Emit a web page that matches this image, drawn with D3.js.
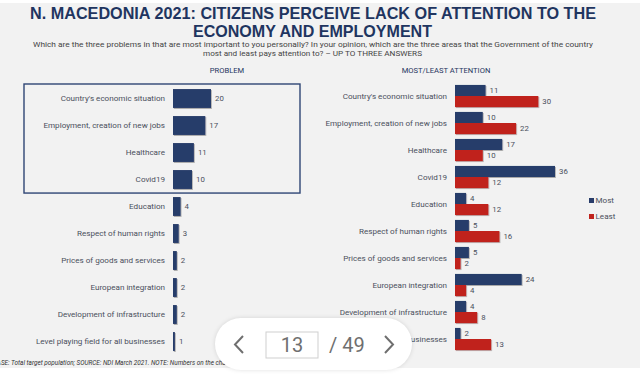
<!DOCTYPE html>
<html>
<head>
<meta charset="utf-8">
<script src="https://cdn.jsdelivr.net/npm/d3@7"></script>
<style>
  body { margin: 0; background: #ffffff; }
  svg { display: block; }
  .lbl { font-family: Roboto, sans-serif; font-size: 8.1px; fill: #4a4f5c; }
  .val { font-family: Roboto, sans-serif; font-size: 7.8px; fill: #4a4f5c; }
</style>
</head>
<body>
<script>
var w = 640;
var h = 377;

// data
var problems = ["Country's economic situation", "Employment, creation of new jobs", "Healthcare", "Covid19",
    "Education", "Respect of human rights", "Prices of goods and services", "European integration",
    "Development of infrastructure", "Level playing field for all businesses"];
var problemValues = [20, 17, 11, 10, 4, 3, 2, 2, 2, 1];
var mostValues = [11, 10, 17, 36, 4, 5, 5, 24, 4, 2];
var leastValues = [30, 22, 10, 12, 12, 16, 2, 4, 8, 13];
var seriesNames = ["Most", "Least"];

var navy = "#283c6a";
var red = "#c0231d";

var svg = d3.select("body").append("svg")
    .attr("width", w)
    .attr("height", h);

// soft shadow under the bars
var defs = svg.append("defs");
var f = defs.append("filter").attr("id", "sh").attr("x", "-20%").attr("y", "-20%").attr("width", "140%").attr("height", "150%");
f.append("feDropShadow").attr("dx", 0.8).attr("dy", 1).attr("stdDeviation", 0.7)
    .attr("flood-color", "#000").attr("flood-opacity", 0.3);

// background
svg.append("rect").attr("width", w).attr("height", h).attr("fill", "#ffffff");
svg.append("rect").attr("x", 0).attr("y", 3).attr("width", w).attr("height", 365).attr("fill", "#f2f2f2");

// title
var titleStyle = function(t) {
    t.style("font-family", "'Liberation Sans', Arial, sans-serif")
        .style("font-weight", "bold").style("font-size", "17px").style("fill", "#1f3560")
        .attr("lengthAdjust", "spacingAndGlyphs");
};
svg.append("text")
    .attr("x", 30).attr("y", 19)
    .attr("textLength", 566)
    .call(titleStyle)
    .text("N. MACEDONIA 2021: CITIZENS PERCEIVE LACK OF ATTENTION TO THE");
svg.append("text")
    .attr("x", 193).attr("y", 37)
    .attr("textLength", 239)
    .call(titleStyle)
    .text("ECONOMY AND EMPLOYMENT");

// subtitle
svg.append("text")
    .attr("x", 33).attr("y", 46.5)
    .attr("textLength", 560).attr("lengthAdjust", "spacingAndGlyphs")
    .style("font-family", "Roboto, sans-serif").style("font-size", "7.6px").style("fill", "#444")
    .text("Which are the three problems in  that are most important to you personally? In your opinion, which are the three areas that the Government of the country");
svg.append("text")
    .attr("x", 203).attr("y", 55.5)
    .attr("textLength", 219).attr("lengthAdjust", "spacingAndGlyphs")
    .style("font-family", "Roboto, sans-serif").style("font-size", "7.6px").style("fill", "#444")
    .text("most and least pays attention to? \u2013 UP TO THREE ANSWERS");

svg.append("text")
    .attr("x", 227).attr("y", 73).attr("text-anchor", "middle")
    .style("font-family", "Roboto, sans-serif").style("font-size", "7.6px").style("fill", "#1f3560")
    .text("PROBLEM");
svg.append("text")
    .attr("x", 446).attr("y", 73).attr("text-anchor", "middle")
    .style("font-family", "Roboto, sans-serif").style("font-size", "7.6px").style("fill", "#1f3560")
    .text("MOST/LEAST ATTENTION");

// ---------- left chart: problems ----------
var x1 = d3.scaleLinear().domain([0, 20]).range([173, 211]);
var y1 = d3.scaleBand().domain(problems).range([85, 355]).paddingInner(0.3).paddingOuter(0.15);

var left = svg.append("g");
left.selectAll("rect.bar")
    .data(problems)
    .enter().append("rect")
    .attr("class", "bar")
    .attr("x", x1(0))
    .attr("y", function(d) { return y1(d); })
    .attr("width", function(d, i) { return x1(problemValues[i]) - x1(0); })
    .attr("height", y1.bandwidth())
    .attr("fill", navy)
    .attr("filter", "url(#sh)");

left.selectAll("text.lbl")
    .data(problems)
    .enter().append("text")
    .attr("class", "lbl")
    .attr("x", 165)
    .attr("y", function(d) { return y1(d) + y1.bandwidth() / 2; })
    .attr("dy", "0.35em")
    .attr("text-anchor", "end")
    .text(function(d) { return d; });

left.selectAll("text.val")
    .data(problems)
    .enter().append("text")
    .attr("class", "val")
    .attr("x", function(d, i) { return x1(problemValues[i]) + 4; })
    .attr("y", function(d) { return y1(d) + y1.bandwidth() / 2; })
    .attr("dy", "0.35em")
    .text(function(d, i) { return problemValues[i]; });

// highlight box around the top four
left.append("rect")
    .attr("x", 24).attr("y", 84)
    .attr("width", 276)
    .attr("height", y1(problems[4]) - 4 - 84)
    .attr("fill", "none")
    .attr("stroke", "#2f4675")
    .attr("stroke-width", 1.4);

// ---------- right chart: most / least attention ----------
var x2 = d3.scaleLinear().domain([0, 36]).range([455, 555]);
var y2 = d3.scaleBand().domain(problems).range([82.5, 352.5]).paddingInner(0.18).paddingOuter(0.09);
var ySub = d3.scaleBand().domain(seriesNames).range([0, y2.bandwidth()]);
var colour = d3.scaleOrdinal().domain(seriesNames).range([navy, red]);

var rows = problems.map(function(p, i) {
    return { name: p, values: [{ key: "Most", v: mostValues[i] }, { key: "Least", v: leastValues[i] }] };
});

var right = svg.append("g");
var grp = right.selectAll("g.row")
    .data(rows)
    .enter().append("g")
    .attr("class", "row")
    .attr("transform", function(d) { return "translate(0," + y2(d.name) + ")"; });

grp.selectAll("rect")
    .data(function(d) { return d.values; })
    .enter().append("rect")
    .attr("x", x2(0))
    .attr("y", function(d) { return ySub(d.key); })
    .attr("width", function(d) { return x2(d.v) - x2(0); })
    .attr("height", ySub.bandwidth())
    .attr("fill", function(d) { return colour(d.key); })
    .attr("filter", "url(#sh)");

grp.selectAll("text.val")
    .data(function(d) { return d.values; })
    .enter().append("text")
    .attr("class", "val")
    .attr("x", function(d) { return x2(d.v) + 4; })
    .attr("y", function(d) { return ySub(d.key) + ySub.bandwidth() / 2; })
    .attr("dy", "0.35em")
    .text(function(d) { return d.v; });

grp.append("text")
    .attr("class", "lbl")
    .attr("x", 447)
    .attr("y", y2.bandwidth() / 2)
    .attr("dy", "0.35em")
    .attr("text-anchor", "end")
    .text(function(d) { return d.name; });

// legend
var lg = svg.append("g").attr("transform", "translate(589,198)");
lg.selectAll("rect")
    .data(seriesNames)
    .enter().append("rect")
    .attr("x", 0)
    .attr("y", function(d, i) { return i * 16; })
    .attr("width", 5).attr("height", 5)
    .attr("fill", function(d) { return colour(d); });
lg.selectAll("text")
    .data(seriesNames)
    .enter().append("text")
    .attr("class", "lbl")
    .attr("x", 6.5)
    .attr("y", function(d, i) { return i * 16 + 2.5; })
    .attr("dy", "0.35em")
    .text(function(d) { return d; });

// footer note
svg.append("text")
    .attr("x", -7).attr("y", 365)
    .style("font-family", "Roboto, sans-serif").style("font-style", "italic")
    .style("font-size", "6.4px").style("fill", "#333")
    .text("BASE: Total target population; SOURCE: NDI March 2021. NOTE: Numbers on the charts are percentages");

// page navigation overlay
var nav = svg.append("g");
nav.append("rect")
    .attr("x", 215).attr("y", 318).attr("width", 197).attr("height", 52).attr("rx", 26)
    .attr("fill", "#ffffff")
    .style("filter", "drop-shadow(0px 0px 2px rgba(0,0,0,0.12))");
nav.append("path")
    .attr("d", "M243,336 L235,344.5 L243,353")
    .attr("fill", "none").attr("stroke", "#6f6f6f").attr("stroke-width", 2);
nav.append("path")
    .attr("d", "M385,336 L393,344.5 L385,353")
    .attr("fill", "none").attr("stroke", "#6f6f6f").attr("stroke-width", 2);
nav.append("rect")
    .attr("x", 266).attr("y", 332).attr("width", 52).attr("height", 26)
    .attr("fill", "#fff").attr("stroke", "#cfcfcf").attr("stroke-width", 1);
nav.append("text")
    .attr("x", 292).attr("y", 352).attr("text-anchor", "middle")
    .style("font-family", "Roboto, sans-serif").style("font-size", "20px").style("fill", "#6f6f6f")
    .text("13");
nav.append("text")
    .attr("x", 329).attr("y", 352)
    .style("font-family", "Roboto, sans-serif").style("font-size", "20px").style("fill", "#6f6f6f")
    .text("/ 49");
</script>
</body>
</html>
